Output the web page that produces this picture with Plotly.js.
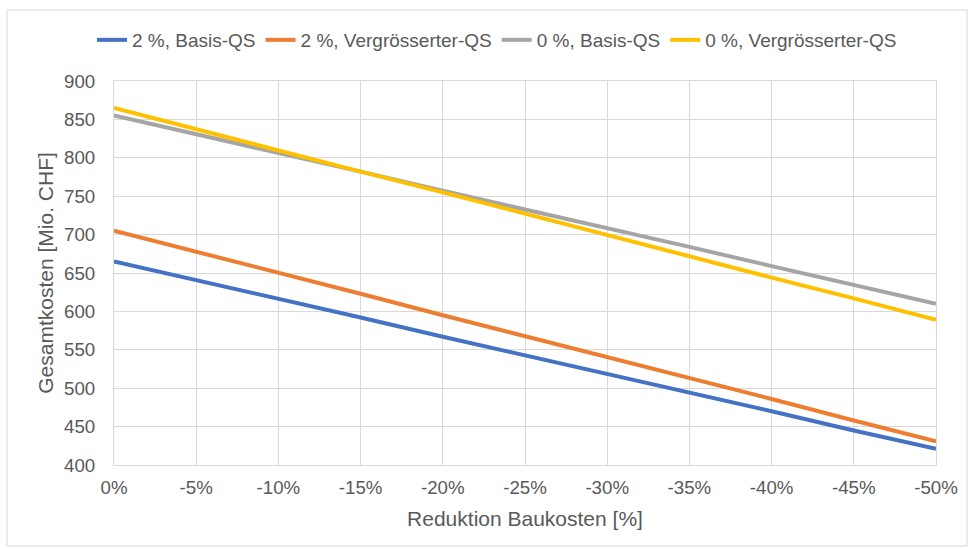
<!DOCTYPE html>
<html>
<head>
<meta charset="utf-8">
<script src="https://cdn.plot.ly/plotly-3.0.1.min.js"></script>
<style>
html,body{margin:0;padding:0;background:#fff;}
#chart{width:968px;height:549px;}
</style>
</head>
<body>
<div id="chart"></div>
<script>
const categories = ["0%", "-5%", "-10%", "-15%", "-20%", "-25%", "-30%", "-35%", "-40%", "-45%", "-50%"];
const seriesNames = ["2 %, Basis-QS", "2 %, Vergrösserter-QS", "0 %, Basis-QS", "0 %, Vergrösserter-QS"];
const basis2 = [665, 641, 616, 592, 567, 543, 519, 494, 470, 445, 421];
const vergr2 = [705, 678, 650, 623, 595, 568, 541, 513, 486, 458, 431];
const basis0 = [855, 831, 806, 782, 757, 733, 708, 684, 659, 635, 610];
const vergr0 = [865, 837, 810, 782, 755, 727, 699, 672, 644, 617, 589];
const yTicks = [400, 450, 500, 550, 600, 650, 700, 750, 800, 850, 900];

const colors = ["#4472C4", "#ED7D31", "#A5A5A5", "#FFC000"];
const allSeries = [basis2, vergr2, basis0, vergr0];
const font = "Liberation Sans, Arial, sans-serif";
const txt = "#595959";

const traces = allSeries.map((vals, i) => ({
  type: "scatter",
  mode: "lines",
  x: categories,
  y: vals,
  name: seriesNames[i],
  line: {color: colors[i], width: 4}
}));

const L = 114, R = 32, T = 81, B = 84;
const PW = 968 - L - R, PH = 549 - T - B;

const layout = {
  width: 968,
  height: 549,
  margin: {l: L, r: R, t: T, b: B},
  paper_bgcolor: "#ffffff",
  plot_bgcolor: "#ffffff",
  font: {family: font, size: 18.7, color: txt},
  showlegend: true,
  legend: {
    orientation: "h",
    xref: "container", yref: "container",
    x: 497 / 968, xanchor: "center",
    y: 1 - 40 / 549, yanchor: "middle",
    bgcolor: "rgba(0,0,0,0)",
    font: {family: font, size: 19, color: txt},
    itemwidth: 30,
    tracegroupgap: 0
  },
  xaxis: {
    type: "category",
    range: [0, 10],
    showgrid: true,
    gridcolor: "#D9D9D9",
    gridwidth: 1,
    showline: true,
    linecolor: "#D9D9D9",
    mirror: true,
    ticks: "",
    ticklabelstandoff: 6,
    tickfont: {family: font, size: 18.7, color: txt},
    title: {text: "Reduktion Baukosten [%]", font: {family: font, size: 21, color: txt}, standoff: 13},
    zeroline: false
  },
  yaxis: {
    range: [400, 900],
    tickvals: yTicks,
    ticktext: yTicks.map(String),
    showgrid: true,
    gridcolor: "#D9D9D9",
    gridwidth: 1,
    showline: true,
    linecolor: "#D9D9D9",
    mirror: true,
    ticks: "",
    ticklabelstandoff: 14,
    tickfont: {family: font, size: 18.7, color: txt},
    title: {text: "Gesamtkosten [Mio. CHF]", font: {family: font, size: 21, color: txt}, standoff: 4},
    zeroline: false
  },
  shapes: [{
    type: "rect", xref: "paper", yref: "paper",
    x0: -(L - 7) / PW, x1: 1 + (R - 1) / PW, y0: -(B - 3) / PH, y1: 1 + (T - 10) / PH,
    line: {color: "#D9D9D9", width: 1}, fillcolor: "rgba(0,0,0,0)", layer: "below"
  }]
};

Plotly.newPlot("chart", traces, layout, {displayModeBar: false, staticPlot: true});
</script>
</body>
</html>
